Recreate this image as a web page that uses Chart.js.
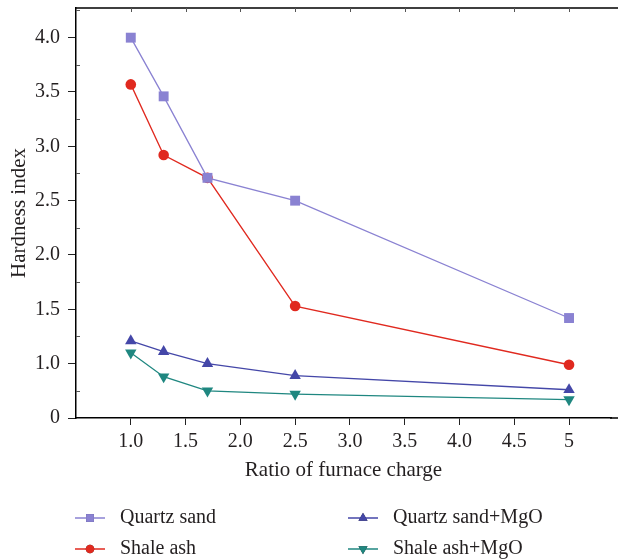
<!DOCTYPE html>
<html>
<head>
<meta charset="utf-8">
<script src="https://cdn.jsdelivr.net/npm/chart.js@4.4.1/dist/chart.umd.min.js"></script>
<style>
  html, body { margin: 0; padding: 0; background: #fff; overflow: hidden; }
  #wrap { width: 618px; height: 560px; position: relative; }
</style>
</head>
<body>
<div id="wrap"><canvas id="myChart"></canvas></div>
<script>
// values
var ratios = [1.0, 1.3, 1.7, 2.5, 5];
var quartzSand = [4.0, 3.46, 2.71, 2.5, 1.42];
var shaleAsh = [3.57, 2.92, 2.71, 1.53, 0.99];
var quartzSandMgO = [1.21, 1.11, 1.0, 0.89, 0.76];
var shaleAshMgO = [1.1, 0.88, 0.75, 0.72, 0.67];
var seriesNames = ["Quartz sand", "Shale ash", "Quartz sand+MgO", "Shale ash+MgO"];
var xTicks = [1.0, 1.5, 2.0, 2.5, 3.0, 3.5, 4.0, 4.5, 5];
// the lowest gridline of the original is printed as "0"
var yTicks = [0.5, 1.0, 1.5, 2.0, 2.5, 3.0, 3.5, 4.0];

var serif = "'Liberation Serif', 'DejaVu Serif', serif";
var ink = "#231f20";

function pts(ys) {
  var out = [];
  for (var i = 0; i < ratios.length; i++) out.push({x: ratios[i], y: ys[i]});
  return out;
}

function makeSet(label, ys, color, style, r, rot) {
  return {
    label: label,
    data: pts(ys),
    borderColor: color,
    backgroundColor: color,
    borderWidth: 1.3,
    pointStyle: style,
    pointRadius: r,
    pointHoverRadius: r,
    pointRotation: rot || 0,
    pointBorderWidth: 0,
    tension: 0
  };
}

var sets = [
  makeSet(seriesNames[0], quartzSand, "#8a82d2", "rect", 7),
  makeSet(seriesNames[1], shaleAsh, "#e0291f", "circle", 5.3),
  makeSet(seriesNames[2], quartzSandMgO, "#4447a8", "triangle", 6.6),
  makeSet(seriesNames[3], shaleAshMgO, "#1f8780", "triangle", 6.6, 180)
];

// frame lines to the right edge, small inner ticks and the two-column legend
var extras = {
  id: "extras",
  afterDraw: function(chart) {
    var ctx = chart.ctx;
    var a = chart.chartArea;
    var xs = chart.scales.x, ys = chart.scales.y;
    ctx.save();
    ctx.strokeStyle = "#000";
    ctx.lineWidth = 1.5;
    ctx.beginPath();
    ctx.moveTo(a.left - 0.75, a.top);
    ctx.lineTo(chart.width, a.top);
    ctx.moveTo(a.right - 1, a.bottom);
    ctx.lineTo(chart.width, a.bottom);
    ctx.stroke();

    ctx.strokeStyle = "#555";
    ctx.lineWidth = 1;
    for (var i = 0; i < xTicks.length; i++) {
      var px = Math.round(xs.getPixelForValue(xTicks[i])) + 0.5;
      ctx.beginPath();
      ctx.moveTo(px, a.top);
      ctx.lineTo(px, a.top + 4);
      ctx.stroke();
    }
    for (var j = 0; j < yTicks.length; j++) {
      var py = Math.round(ys.getPixelForValue(yTicks[j] + 0.25)) + 0.5;
      ctx.beginPath();
      ctx.moveTo(a.left, py);
      ctx.lineTo(a.left + 4, py);
      ctx.stroke();
    }

    var cols = [{line: 75, text: 120}, {line: 348, text: 393}];
    var rows = [518, 549];
    var place = [[0, 0], [0, 1], [1, 0], [1, 1]];
    ctx.font = "20px " + serif;
    ctx.textBaseline = "middle";
    ctx.textAlign = "left";
    for (var k = 0; k < sets.length; k++) {
      var ds = sets[k];
      var c = cols[place[k][0]], y = rows[place[k][1]];
      ctx.strokeStyle = ds.borderColor;
      ctx.lineWidth = 1.5;
      ctx.beginPath();
      ctx.moveTo(c.line, y);
      ctx.lineTo(c.line + 30, y);
      ctx.stroke();
      Chart.helpers.drawPoint(ctx, {
        pointStyle: ds.pointStyle,
        rotation: ds.pointRotation,
        radius: ds.pointRadius * 0.8,
        borderWidth: 0
      }, c.line + 15, y);
      ctx.fillStyle = ds.borderColor;
      ctx.fill();
      ctx.fillStyle = ink;
      ctx.fillText(ds.label, c.text, y);
    }
    ctx.restore();
  }
};

new Chart("myChart", {
  type: "line",
  data: { datasets: sets },
  options: {
    responsive: true,
    maintainAspectRatio: false,
    animation: false,
    events: [],
    layout: { padding: { top: 8, right: 0, left: 0, bottom: 77 } },
    plugins: {
      legend: { display: false },
      tooltip: { enabled: false }
    },
    scales: {
      x: {
        type: "linear",
        min: 0.5,
        max: 5.383,
        afterBuildTicks: function(s) { s.ticks = xTicks.map(function(v) { return {value: v}; }); },
        afterFit: function(s) { s.height = 65; s.paddingLeft = 0; s.paddingRight = 0; },
        ticks: {
          color: ink,
          font: { family: serif, size: 20 },
          padding: 5,
          maxRotation: 0,
          callback: function(v) { return v === 5 ? "5" : v.toFixed(1); }
        },
        grid: { drawOnChartArea: false, drawTicks: true, tickLength: 7, color: "#222", lineWidth: 1 },
        border: { color: "#000", width: 1.5 },
        title: {
          display: true,
          text: "Ratio of furnace charge",
          color: ink,
          font: { family: serif, size: 21 },
          padding: { top: 0, bottom: 0 }
        }
      },
      y: {
        type: "linear",
        min: 0.5,
        max: 4.273,
        afterBuildTicks: function(s) { s.ticks = yTicks.map(function(v) { return {value: v}; }); },
        afterFit: function(s) { s.width = 76; s.paddingTop = 0; s.paddingBottom = 0; },
        ticks: {
          color: ink,
          font: { family: serif, size: 20 },
          padding: 8,
          callback: function(v) { return v === 0.5 ? "0" : v.toFixed(1); }
        },
        grid: { drawOnChartArea: false, drawTicks: true, tickLength: 8, color: "#222", lineWidth: 1 },
        border: { color: "#000", width: 1.5 },
        title: {
          display: true,
          text: "Hardness index",
          color: ink,
          font: { family: serif, size: 21 },
          padding: { top: 7, bottom: 0 }
        }
      }
    }
  },
  plugins: [extras]
});
</script>
</body>
</html>
